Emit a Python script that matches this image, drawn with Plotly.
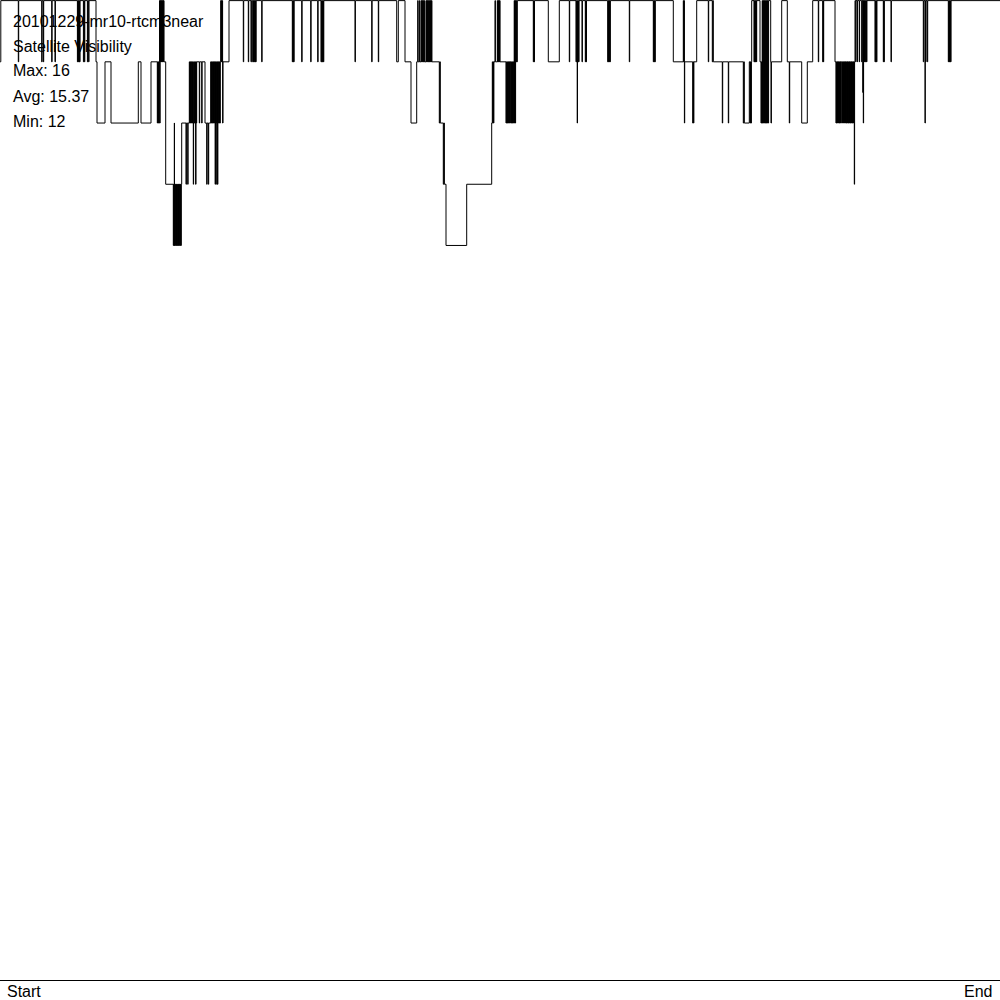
import plotly.graph_objects as go

# ---- data: satellite-count change points (epoch, visible satellites) ----
title_line = "20101229-mr10-rtcm3near"
subtitle_line = "Satellite Visibility"
stat_labels = ["Max: 16", "Avg: 15.37", "Min: 12"]
x_labels = ["Start", "End"]

changes_1 = [
    (0, 15), (0.8, 16), (18.3, 15), (18.7, 16), (41.7, 15), (42.1, 16), (43.3, 15), (43.7, 16),
    (51.7, 15), (52.1, 16), (55.0, 15), (55.4, 16),
    (77.4, 15), (77.8, 16), (78.2, 15), (78.6, 16), (79.0, 15), (79.4, 16), (79.7, 15), (80.0, 16),
    (83.4, 15), (83.8, 16), (84.4, 15), (84.8, 16), (87.4, 15), (87.8, 16), (88.6, 15), (89.0, 16),
    (96.0, 15), (97.0, 14), (105.0, 15), (111.0, 14), (138.3, 15), (141.0, 14), (151.0, 15),
    (157.3, 14), (157.7, 15), (158.1, 14), (158.5, 15), (158.9, 14), (159.3, 15),
    (159.5, 16), (159.8, 14), (160.1, 16), (160.5, 15), (160.8, 16), (161.2, 15), (161.5, 16),
    (161.9, 15), (162.2, 16), (162.6, 15), (162.9, 16), (163.3, 15), (163.6, 16), (164.0, 15),
    (165.7, 13),
]

changes_2 = [
    (173.3, 12), (173.7, 13), (174.0, 12), (174.3, 14), (174.5, 12), (174.9, 13), (175.3, 12),
    (175.7, 13), (176.1, 12), (176.5, 13), (176.9, 12), (177.3, 13), (177.7, 12), (178.1, 13),
    (178.5, 12), (178.9, 13), (179.3, 12), (179.7, 13), (180.1, 12), (180.5, 13), (180.9, 12),
    (181.3, 13), (181.7, 14), (186.0, 13), (186.4, 14), (187.7, 13), (188.1, 14),
    (189.3, 15), (189.7, 14), (190.1, 15), (190.5, 14), (190.9, 15), (191.3, 14), (191.7, 15),
    (192.1, 14), (192.5, 15), (192.9, 14), (193.3, 13), (193.6, 15), (194.0, 14), (194.4, 15),
    (194.8, 14), (195.2, 15), (195.6, 13), (196.0, 15), (196.3, 14), (196.7, 15),
    (199.3, 14), (199.7, 15), (201.7, 14), (202.1, 15), (205.0, 14), (206.7, 13), (207.1, 14),
    (208.3, 13), (208.7, 14),
    (210.7, 15), (211.1, 14), (211.5, 15), (211.9, 14), (212.3, 15), (212.7, 14), (213.1, 15),
    (213.5, 14), (213.9, 15), (214.3, 14), (214.7, 15), (215.1, 13), (215.5, 15), (215.9, 14),
    (216.3, 15), (216.7, 13), (217.1, 15), (217.5, 13), (217.9, 15), (218.3, 14), (218.7, 15),
    (219.1, 14), (219.5, 15), (219.9, 14), (220.3, 15),
    (220.7, 16), (221.1, 15), (221.5, 16), (221.9, 15), (222.3, 16), (222.6, 14), (223.0, 15),
    (229.0, 16), (243.3, 15), (243.7, 16), (248.3, 15), (248.7, 16),
]

changes_3 = [
    (251.0, 15), (251.4, 16), (252.7, 15), (253.1, 16), (253.5, 15), (253.9, 16), (254.3, 15),
    (254.7, 16), (255.1, 15), (255.5, 16), (255.8, 15), (256.1, 16), (261.7, 15), (262.1, 16),
    (292.3, 15), (292.7, 16), (293.1, 15), (293.5, 16), (293.8, 15), (294.1, 16),
    (301.7, 15), (302.1, 16), (310.7, 15), (311.1, 16), (317.7, 15), (318.1, 16),
    (321.0, 15), (321.4, 16), (321.8, 15), (322.2, 16), (322.6, 15), (323.0, 16), (323.4, 15),
    (323.8, 16), (355.0, 15), (355.4, 16), (371.7, 15), (372.1, 16),
]

changes_4 = [
    (378.3, 15), (378.7, 16), (396.7, 15), (398.3, 16), (405.0, 15), (411.0, 14), (416.7, 15),
    (417.7, 16), (418.1, 15), (419.3, 16), (419.7, 15),
    (421.0, 16), (421.4, 15), (421.8, 16), (422.2, 15), (422.6, 16), (423.0, 15), (423.4, 16),
    (423.8, 15), (424.2, 16), (424.6, 15),
    (426.0, 16), (426.4, 15), (426.8, 16), (427.2, 15), (427.6, 16), (428.0, 15), (428.4, 16),
    (428.8, 15), (429.2, 16), (429.6, 15), (430.0, 16), (430.4, 15), (430.8, 16), (431.2, 15),
    (431.6, 16), (431.9, 15),
    (439.3, 14), (439.8, 15), (440.3, 14), (443.3, 13), (443.8, 14), (444.4, 13), (446.0, 12),
    (466.7, 13), (491.7, 14), (492.3, 15), (492.7, 14), (493.1, 15), (493.5, 14), (493.9, 15),
    (495.0, 16), (495.4, 15), (497.3, 16), (497.7, 15), (498.1, 16), (498.5, 15), (498.9, 16),
    (499.3, 15), (499.7, 16), (500.0, 15),
]

changes_5 = [
    (506.0, 14), (506.4, 15), (506.8, 14), (507.2, 15), (507.6, 14), (508.0, 15), (508.4, 14),
    (508.8, 15), (509.2, 14), (509.6, 15), (510.0, 14), (510.3, 15),
    (511.0, 14), (511.4, 15), (511.8, 14), (512.2, 15), (512.6, 14), (513.0, 15), (513.4, 14),
    (513.8, 15), (514.2, 16), (514.5, 14), (514.9, 16), (515.2, 14), (515.6, 16), (516.0, 15),
    (516.4, 16), (516.8, 15), (517.3, 16),
    (533.3, 15), (533.7, 16), (534.1, 15), (534.5, 16), (548.3, 15), (559.3, 16),
    (569.3, 15), (569.7, 16), (576.0, 15), (576.4, 16), (576.8, 15), (577.2, 14), (577.5, 16),
    (577.9, 15), (578.3, 16), (578.7, 15), (579.0, 16), (582.0, 15), (582.4, 16),
    (585.3, 15), (585.7, 16), (586.1, 15), (586.5, 16),
    (607.7, 15), (608.1, 16), (608.5, 15), (608.9, 16), (609.3, 15), (609.7, 16), (610.0, 15),
    (610.3, 16),
]

changes_6 = [
    (629.3, 15), (629.7, 16), (653.3, 15), (653.7, 16), (654.1, 15), (654.5, 16), (654.9, 15),
    (655.3, 16), (673.3, 15), (683.3, 16), (683.7, 15), (684.1, 16), (684.4, 14), (684.7, 15),
    (692.7, 14), (693.1, 15), (693.5, 14), (693.9, 15), (696.7, 16), (708.3, 15), (708.7, 16),
    (712.3, 15), (712.8, 16), (713.3, 15), (722.3, 14), (722.7, 15), (728.3, 14), (728.7, 15),
    (743.3, 14), (743.8, 15), (744.3, 14), (749.3, 15),
]

changes_7 = [
    (750.0, 14), (750.5, 15), (751.0, 14), (751.4, 15), (751.7, 16),
    (754.0, 15), (754.4, 16), (754.8, 15), (755.2, 16), (755.6, 15), (756.0, 16), (756.4, 15),
    (756.7, 16), (760.0, 15),
    (761.0, 14), (761.4, 15), (761.8, 14), (762.2, 16), (762.6, 14), (763.0, 16), (763.4, 14),
    (763.8, 16), (764.2, 14), (764.6, 16), (765.0, 14), (765.4, 16), (765.8, 14), (766.2, 16),
    (766.6, 14), (767.0, 16), (767.4, 14), (767.8, 16), (768.2, 14), (768.6, 16),
    (770.7, 15), (771.0, 14), (771.4, 15), (781.7, 16), (787.3, 15), (789.3, 14), (789.7, 15),
    (801.7, 14), (807.3, 15), (812.7, 16), (818.3, 15), (818.7, 16), (822.7, 15), (823.1, 16),
    (823.4, 15), (823.7, 16), (835.0, 15),
    (836.0, 14), (836.3, 15), (836.7, 14), (837.0, 15), (837.3, 14), (837.6, 15), (838.3, 14),
    (838.6, 15), (839.0, 14), (839.3, 15), (839.7, 14), (840.0, 15), (840.3, 14), (840.6, 15),
    (841.0, 14), (841.3, 15), (842.5, 14), (842.8, 15), (843.5, 14), (843.8, 15), (844.5, 14),
    (844.8, 15), (845.3, 14), (845.6, 15), (846.0, 14), (846.3, 15), (846.7, 14), (847.0, 15),
    (847.3, 14), (847.6, 15), (848.0, 14), (848.3, 15), (848.7, 14), (849.0, 15), (849.3, 14),
    (849.6, 15), (850.0, 14), (850.3, 15), (850.7, 14), (851.0, 15), (851.3, 14), (851.6, 15),
    (852.0, 14), (852.3, 15), (852.7, 14), (853.0, 15), (853.3, 14), (853.6, 15),
    (854.3, 13), (854.6, 15), (855.0, 16),
    (855.7, 15), (856.0, 16), (857.3, 15), (857.6, 16), (859.3, 15), (859.6, 16), (861.7, 15),
    (862.0, 16), (862.8, 14.5), (863.1, 16), (863.3, 14), (863.6, 16), (864.2, 15), (864.5, 16),
    (865.0, 15), (865.3, 16), (865.8, 15), (866.1, 16), (866.6, 15), (866.9, 16),
]

changes_8 = [
    (875.0, 15), (875.4, 16), (875.8, 15), (876.2, 16), (876.6, 15), (876.9, 16),
    (883.3, 15), (883.7, 16), (884.0, 15), (884.3, 16), (891.0, 15), (891.4, 16),
    (923.3, 15), (923.7, 16), (925.0, 14), (925.3, 16), (925.7, 15), (926.0, 16),
    (927.3, 15), (927.7, 16),
    (948.3, 15), (948.7, 16), (949.1, 15), (949.5, 16), (949.9, 15), (950.3, 16), (950.7, 15),
    (951.0, 16), (1000.0, 16),
]

all_changes = changes_1 + changes_2 + changes_3 + changes_4 + changes_5 + changes_6 + changes_7 + changes_8
epochs = [c[0] for c in all_changes]
sats = [c[1] for c in all_changes]

# ---- figure ----
W, H = 1000, 1000
plot_h = 980

fig = go.Figure()
fig.add_trace(go.Scatter(
    x=epochs, y=sats, mode="lines",
    line=dict(color="black", width=1, shape="hv"),
    hoverinfo="skip", showlegend=False,
))

font = dict(family="Liberation Sans, Arial, sans-serif", size=16, color="black")

text_lines = [title_line, subtitle_line] + stat_labels
text_y_px = [21, 46, 71, 96.5, 122]
annotations = []
for t, ypx in zip(text_lines, text_y_px):
    annotations.append(dict(
        text=t, xref="paper", yref="paper", x=11 / W, y=1 - ypx / plot_h,
        xanchor="left", yanchor="middle", showarrow=False, font=font,
    ))
annotations.append(dict(
    text=x_labels[0], xref="paper", yref="paper", x=5 / W, y=1 - 991 / plot_h,
    xanchor="left", yanchor="middle", showarrow=False, font=font,
))
annotations.append(dict(
    text=x_labels[1], xref="paper", yref="paper", x=994 / W, y=1 - 991 / plot_h,
    xanchor="right", yanchor="middle", showarrow=False, font=font,
))

fig.update_layout(
    width=W, height=H,
    margin=dict(l=0, r=0, t=0, b=H - plot_h, pad=0),
    paper_bgcolor="white", plot_bgcolor="white",
    showlegend=False,
    xaxis=dict(range=[0, 1000], showgrid=False, zeroline=False, showticklabels=False,
               ticks="", showline=True, linecolor="black", linewidth=1, fixedrange=True),
    yaxis=dict(range=[0, 16.01], visible=False, showgrid=False, zeroline=False, fixedrange=True),
    annotations=annotations,
)

fig.write_html(
    "out.html",
    config={"displayModeBar": False},
    post_script="document.body.style.margin='0';document.body.style.overflow='hidden';",
)
